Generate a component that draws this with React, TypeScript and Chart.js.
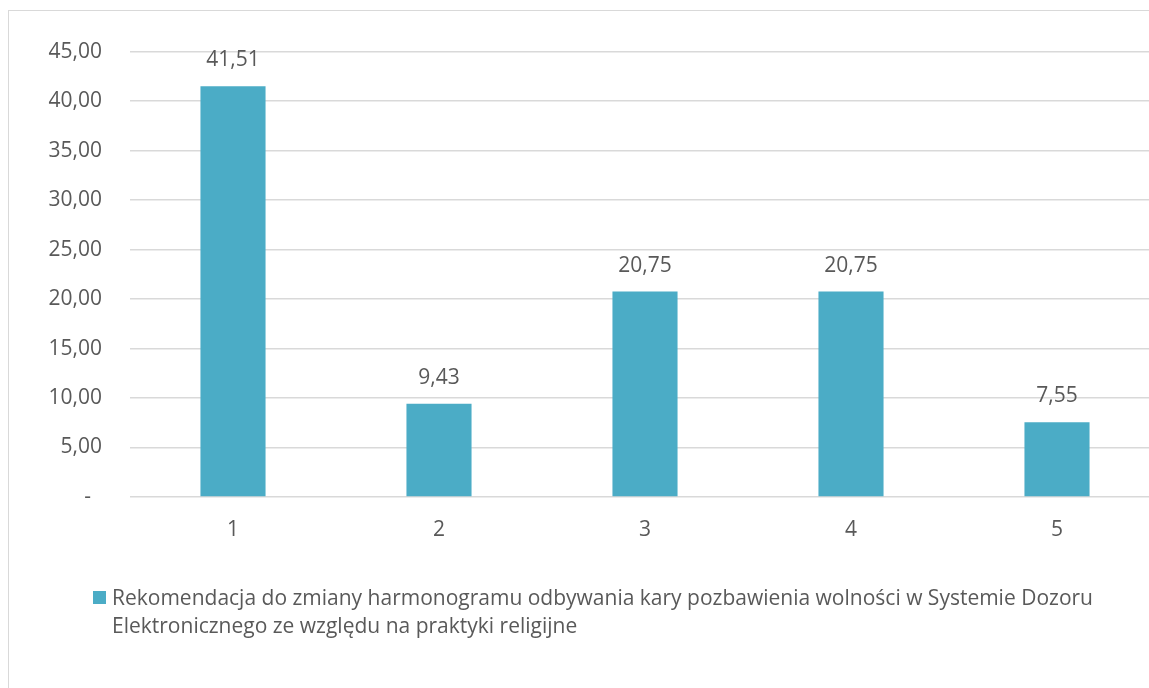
import React, { useEffect, useRef } from "react";
import { Chart, registerables } from "chart.js";

Chart.register(...registerables);

const categories: string[] = ["1", "2", "3", "4", "5"];
const values: number[] = [41.51, 9.43, 20.75, 20.75, 7.55];
const seriesLabel: string[] = [
  "Rekomendacja do zmiany harmonogramu odbywania kary pozbawienia wolności w Systemie Dozoru",
  "Elektronicznego ze względu na praktyki religijne",
];
const yMin = 0;
const yMax = 45;
const yStep = 5;

const BAR_COLOR = "#4BACC6";
const TEXT_COLOR = "#595959";
const GRID_COLOR = "#d9d9d9";
const FONT_FAMILY = "'Open Sans', sans-serif";
const FONT_SIZE = 21;

const fmt = (v: number) =>
  v === 0 ? "-  " : v.toFixed(2).replace(".", ",");

export default function App() {
  const ref = useRef<HTMLCanvasElement | null>(null);

  useEffect(() => {
    if (!ref.current) return;

    const labelPlugin = {
      id: "valueLabels",
      afterDatasetsDraw(chart: any) {
        const ctx = chart.ctx;
        const meta = chart.getDatasetMeta(0);
        ctx.save();
        ctx.font = `${FONT_SIZE}px ${FONT_FAMILY}`;
        ctx.fillStyle = TEXT_COLOR;
        ctx.textAlign = "center";
        ctx.textBaseline = "middle";
        meta.data.forEach((bar: any, i: number) => {
          ctx.fillText(fmt(values[i]), bar.x, bar.y - 26);
        });
        ctx.restore();
      },
    };

    const legendPlugin = {
      id: "customLegend",
      afterDraw(chart: any) {
        const ctx = chart.ctx;
        const area = chart.chartArea;
        const sqX = area.left - 37;
        const sqY = area.bottom + 94;
        ctx.save();
        ctx.fillStyle = BAR_COLOR;
        ctx.fillRect(sqX, sqY, 13, 13);
        ctx.font = `${FONT_SIZE}px ${FONT_FAMILY}`;
        ctx.fillStyle = TEXT_COLOR;
        ctx.textAlign = "left";
        ctx.textBaseline = "alphabetic";
        seriesLabel.forEach((line, i) => {
          ctx.fillText(line, sqX + 19, sqY + 14 + i * 28);
        });
        ctx.restore();
      },
    };

    const chart = new Chart(ref.current, {
      type: "bar",
      data: {
        labels: categories,
        datasets: [
          {
            label: seriesLabel.join(" "),
            data: values,
            backgroundColor: BAR_COLOR,
            borderWidth: 0,
            barPercentage: 0.632,
            categoryPercentage: 0.5,
          },
        ],
      },
      options: {
        responsive: false,
        animation: false,
        layout: { padding: { left: 0, right: 19, top: 37, bottom: 164 } },
        plugins: {
          legend: { display: false },
          tooltip: { enabled: false },
          title: { display: false },
        },
        scales: {
          x: {
            grid: { display: false, drawTicks: false },
            border: { display: false },
            ticks: {
              color: TEXT_COLOR,
              font: { family: FONT_FAMILY, size: FONT_SIZE },
              padding: 20,
            },
            afterFit: (s: any) => {
              s.height = 40;
            },
          },
          y: {
            min: yMin,
            max: yMax,
            grid: { color: GRID_COLOR, lineWidth: 1.5, drawTicks: false },
            border: { display: false },
            ticks: {
              stepSize: yStep,
              color: TEXT_COLOR,
              font: { family: FONT_FAMILY, size: FONT_SIZE },
              padding: 28,
              callback: (v: any) => fmt(Number(v)),
            },
            afterFit: (s: any) => {
              s.width = 121;
            },
          },
        },
      },
      plugins: [labelPlugin, legendPlugin],
    });

    return () => chart.destroy();
  }, []);

  return (
    <div
      style={{
        position: "fixed",
        left: 0,
        top: 0,
        width: 1149,
        height: 688,
        overflow: "hidden",
        background: "#fff",
      }}
    >
      <div
        style={{
          position: "absolute",
          left: 8,
          top: 10,
          width: 1170,
          height: 690,
          border: "1px solid #d9d9d9",
        }}
      >
        <canvas
          ref={ref}
          width={1170}
          height={690}
          style={{ display: "block", width: 1170, height: 690 }}
        />
      </div>
    </div>
  );
}
